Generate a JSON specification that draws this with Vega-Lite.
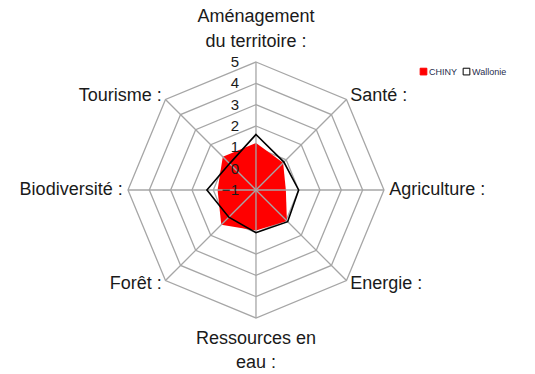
{
  "$schema": "https://vega.github.io/schema/vega-lite/v6.json",
  "width": 535,
  "height": 374,
  "autosize": {"type": "none"},
  "padding": 0,
  "background": "white",
  "config": {"view": {"stroke": null}},
  "datasets": {
    "scores": [
      {"series": "CHINY", "axis": "Aménagement du territoire", "idx": 0, "value": 1.2},
      {"series": "CHINY", "axis": "Santé", "idx": 1, "value": 0.8},
      {"series": "CHINY", "axis": "Agriculture", "idx": 2, "value": 0.4},
      {"series": "CHINY", "axis": "Energie", "idx": 3, "value": 1.05},
      {"series": "CHINY", "axis": "Ressources en eau", "idx": 4, "value": 0.9},
      {"series": "CHINY", "axis": "Forêt", "idx": 5, "value": 1.3},
      {"series": "CHINY", "axis": "Biodiversité", "idx": 6, "value": 0.8},
      {"series": "CHINY", "axis": "Tourisme", "idx": 7, "value": 1.2},
      {"series": "Wallonie", "axis": "Aménagement du territoire", "idx": 0, "value": 1.6},
      {"series": "Wallonie", "axis": "Santé", "idx": 1, "value": 0.85},
      {"series": "Wallonie", "axis": "Agriculture", "idx": 2, "value": 1.0},
      {"series": "Wallonie", "axis": "Energie", "idx": 3, "value": 1.1},
      {"series": "Wallonie", "axis": "Ressources en eau", "idx": 4, "value": 1.0},
      {"series": "Wallonie", "axis": "Forêt", "idx": 5, "value": 0.8},
      {"series": "Wallonie", "axis": "Biodiversité", "idx": 6, "value": 1.3},
      {"series": "Wallonie", "axis": "Tourisme", "idx": 7, "value": 0.75}
    ],
    "axes": [
      {"idx": 0, "label": "Aménagement\ndu territoire :"},
      {"idx": 1, "label": "Santé :"},
      {"idx": 2, "label": "Agriculture :"},
      {"idx": 3, "label": "Energie :"},
      {"idx": 4, "label": "Ressources en\neau :"},
      {"idx": 5, "label": "Forêt :"},
      {"idx": 6, "label": "Biodiversité :"},
      {"idx": 7, "label": "Tourisme :"}
    ],
    "rings": [
      {"v": -1, "idx": [0, 1, 2, 3, 4, 5, 6, 7]},
      {"v": 0, "idx": [0, 1, 2, 3, 4, 5, 6, 7]},
      {"v": 1, "idx": [0, 1, 2, 3, 4, 5, 6, 7]},
      {"v": 2, "idx": [0, 1, 2, 3, 4, 5, 6, 7]},
      {"v": 3, "idx": [0, 1, 2, 3, 4, 5, 6, 7]},
      {"v": 4, "idx": [0, 1, 2, 3, 4, 5, 6, 7]},
      {"v": 5, "idx": [0, 1, 2, 3, 4, 5, 6, 7]}
    ]
  },
  "layer": [
    {
      "data": {"name": "rings"},
      "transform": [
        {"filter": "datum.v >= 0"},
        {"flatten": ["idx"]},
        {"calculate": "datum.v + 1", "as": "r"},
        {"calculate": "datum.r * sin(datum.idx * PI / 4)", "as": "x"},
        {"calculate": "datum.r * cos(datum.idx * PI / 4)", "as": "y"}
      ],
      "mark": {"type": "line", "interpolate": "linear-closed", "stroke": "#a6a6a6", "strokeWidth": 1.3},
      "encoding": {
        "x": {"field": "x", "type": "quantitative", "scale": {"domain": [-12, 13.08], "nice": false, "zero": false}, "axis": null},
        "y": {"field": "y", "type": "quantitative", "scale": {"domain": [-8.625, 8.906], "nice": false, "zero": false}, "axis": null},
        "detail": {"field": "v", "type": "nominal"},
        "order": {"field": "idx", "type": "quantitative"}
      }
    },
    {
      "data": {"name": "scores"},
      "transform": [
        {"filter": "datum.series === 'CHINY'"},
        {"calculate": "datum.value + 1", "as": "r"},
        {"calculate": "datum.r * sin(datum.idx * PI / 4)", "as": "x"},
        {"calculate": "datum.r * cos(datum.idx * PI / 4)", "as": "y"}
      ],
      "mark": {"type": "line", "interpolate": "linear-closed", "strokeWidth": 0, "fillOpacity": 1},
      "encoding": {
        "x": {"field": "x", "type": "quantitative", "scale": {"domain": [-12, 13.08], "nice": false, "zero": false}, "axis": null},
        "y": {"field": "y", "type": "quantitative", "scale": {"domain": [-8.625, 8.906], "nice": false, "zero": false}, "axis": null},
        "order": {"field": "idx", "type": "quantitative"},
        "fill": {
          "field": "series", "type": "nominal",
          "scale": {"domain": ["CHINY", "Wallonie"], "range": ["#ff0000", "#ffffff"]},
          "legend": {"orient": "none", "legendX": 419, "legendY": 67, "direction": "horizontal", "title": null, "symbolType": "square", "symbolSize": 45, "symbolStrokeWidth": 1, "labelFontSize": 9, "labelFont": "Liberation Sans", "labelColor": "#1f2d4d", "columnPadding": 3, "labelOffset": 1}
        }
      }
    },
    {
      "data": {"name": "axes"},
      "transform": [
        {"calculate": "0", "as": "cx"},
        {"calculate": "0", "as": "cy"},
        {"calculate": "6 * sin(datum.idx * PI / 4)", "as": "ex"},
        {"calculate": "6 * cos(datum.idx * PI / 4)", "as": "ey"}
      ],
      "mark": {"type": "rule", "stroke": "#a6a6a6", "strokeWidth": 1.3},
      "encoding": {
        "x": {"field": "cx", "type": "quantitative", "scale": {"domain": [-12, 13.08], "nice": false, "zero": false}, "axis": null},
        "y": {"field": "cy", "type": "quantitative", "scale": {"domain": [-8.625, 8.906], "nice": false, "zero": false}, "axis": null},
        "x2": {"field": "ex"},
        "y2": {"field": "ey"}
      }
    },
    {
      "data": {"name": "scores"},
      "transform": [
        {"filter": "datum.series === 'Wallonie'"},
        {"calculate": "datum.value + 1", "as": "r"},
        {"calculate": "datum.r * sin(datum.idx * PI / 4)", "as": "x"},
        {"calculate": "datum.r * cos(datum.idx * PI / 4)", "as": "y"}
      ],
      "mark": {"type": "line", "interpolate": "linear-closed", "strokeWidth": 1.6},
      "encoding": {
        "x": {"field": "x", "type": "quantitative", "scale": {"domain": [-12, 13.08], "nice": false, "zero": false}, "axis": null},
        "y": {"field": "y", "type": "quantitative", "scale": {"domain": [-8.625, 8.906], "nice": false, "zero": false}, "axis": null},
        "order": {"field": "idx", "type": "quantitative"},
        "stroke": {
          "field": "series", "type": "nominal",
          "scale": {"domain": ["CHINY", "Wallonie"], "range": ["#ff0000", "#000000"]},
          "legend": {"orient": "none", "legendX": 419, "legendY": 67, "direction": "horizontal", "title": null, "symbolType": "square", "symbolSize": 45, "symbolStrokeWidth": 1, "labelFontSize": 9, "labelFont": "Liberation Sans", "labelColor": "#1f2d4d", "columnPadding": 3, "labelOffset": 1}
        }
      }
    },
    {
      "data": {"name": "rings"},
      "transform": [
        {"calculate": "datum.v + 1", "as": "r"},
        {"calculate": "0", "as": "cx"}
      ],
      "mark": {"type": "text", "align": "right", "baseline": "middle", "dx": -17, "font": "Liberation Sans", "fontSize": 15, "color": "#1a1a1a"},
      "encoding": {
        "x": {"field": "cx", "type": "quantitative", "scale": {"domain": [-12, 13.08], "nice": false, "zero": false}, "axis": null},
        "y": {"field": "r", "type": "quantitative", "scale": {"domain": [-8.625, 8.906], "nice": false, "zero": false}, "axis": null},
        "text": {"field": "v", "type": "quantitative"}
      }
    },
    {
      "data": {"name": "axes"},
      "transform": [
        {"filter": "datum.idx >= 1 && datum.idx <= 3"},
        {"calculate": "6.25 * sin(datum.idx * PI / 4)", "as": "lx"},
        {"calculate": "6.25 * cos(datum.idx * PI / 4)", "as": "ly"}
      ],
      "mark": {"type": "text", "align": "left", "baseline": "middle", "font": "Liberation Sans", "fontSize": 18, "color": "#1a1a1a"},
      "encoding": {
        "x": {"field": "lx", "type": "quantitative", "scale": {"domain": [-12, 13.08], "nice": false, "zero": false}, "axis": null},
        "y": {"field": "ly", "type": "quantitative", "scale": {"domain": [-8.625, 8.906], "nice": false, "zero": false}, "axis": null},
        "text": {"field": "label", "type": "nominal"}
      }
    },
    {
      "data": {"name": "axes"},
      "transform": [
        {"filter": "datum.idx >= 5"},
        {"calculate": "6.25 * sin(datum.idx * PI / 4)", "as": "lx"},
        {"calculate": "6.25 * cos(datum.idx * PI / 4)", "as": "ly"}
      ],
      "mark": {"type": "text", "align": "right", "baseline": "middle", "font": "Liberation Sans", "fontSize": 18, "color": "#1a1a1a"},
      "encoding": {
        "x": {"field": "lx", "type": "quantitative", "scale": {"domain": [-12, 13.08], "nice": false, "zero": false}, "axis": null},
        "y": {"field": "ly", "type": "quantitative", "scale": {"domain": [-8.625, 8.906], "nice": false, "zero": false}, "axis": null},
        "text": {"field": "label", "type": "nominal"}
      }
    },
    {
      "data": {"name": "axes"},
      "transform": [
        {"filter": "datum.idx === 0"},
        {"calculate": "6.25 * sin(datum.idx * PI / 4)", "as": "lx"},
        {"calculate": "6.25 * cos(datum.idx * PI / 4)", "as": "ly"}
      ],
      "mark": {"type": "text", "align": "center", "baseline": "top", "lineBreak": "\n", "lineHeight": 25, "dy": -49, "font": "Liberation Sans", "fontSize": 18, "color": "#1a1a1a"},
      "encoding": {
        "x": {"field": "lx", "type": "quantitative", "scale": {"domain": [-12, 13.08], "nice": false, "zero": false}, "axis": null},
        "y": {"field": "ly", "type": "quantitative", "scale": {"domain": [-8.625, 8.906], "nice": false, "zero": false}, "axis": null},
        "text": {"field": "label", "type": "nominal"}
      }
    },
    {
      "data": {"name": "axes"},
      "transform": [
        {"filter": "datum.idx === 4"},
        {"calculate": "6.25 * sin(datum.idx * PI / 4)", "as": "lx"},
        {"calculate": "6.25 * cos(datum.idx * PI / 4)", "as": "ly"}
      ],
      "mark": {"type": "text", "align": "center", "baseline": "top", "lineBreak": "\n", "lineHeight": 24, "dy": 7, "font": "Liberation Sans", "fontSize": 18, "color": "#1a1a1a"},
      "encoding": {
        "x": {"field": "lx", "type": "quantitative", "scale": {"domain": [-12, 13.08], "nice": false, "zero": false}, "axis": null},
        "y": {"field": "ly", "type": "quantitative", "scale": {"domain": [-8.625, 8.906], "nice": false, "zero": false}, "axis": null},
        "text": {"field": "label", "type": "nominal"}
      }
    }
  ]
}
